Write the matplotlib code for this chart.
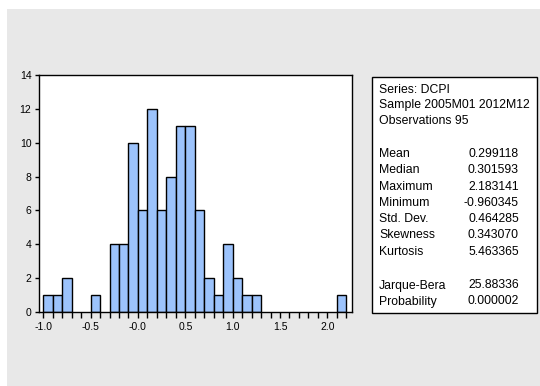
import matplotlib
matplotlib.use("Agg")
import matplotlib.pyplot as plt
from matplotlib.patches import Rectangle
import numpy as np

plt.rcParams['font.family'] = ['Liberation Sans', 'DejaVu Sans']

# ---- data ----
bin_starts = [-1.0, -0.9, -0.8, -0.7, -0.6, -0.5, -0.4, -0.3, -0.2, -0.1,
              0.0, 0.1, 0.2, 0.3, 0.4, 0.5, 0.6, 0.7, 0.8, 0.9,
              1.0, 1.1, 1.2, 1.3, 1.4, 1.5, 1.6, 1.7, 1.8, 1.9, 2.0, 2.1]
counts = [1, 1, 2, 0, 0, 1, 0, 4, 4, 10,
          6, 12, 6, 8, 11, 11, 6, 2, 1, 4,
          2, 1, 1, 0, 0, 0, 0, 0, 0, 0, 0, 1]
bin_width = 0.1
xtick_values = [-1.0, -0.5, 0.0, 0.5, 1.0, 1.5, 2.0]
xtick_labels = ["-1.0", "-0.5", "-0.0", "0.5", "1.0", "1.5", "2.0"]
yticks = [0, 2, 4, 6, 8, 10, 12, 14]

header_lines = ["Series: DCPI", "Sample 2005M01 2012M12", "Observations 95"]
stat_names = ["Mean", "Median", "Maximum", "Minimum", "Std. Dev.", "Skewness", "Kurtosis"]
stat_values = ["0.299118", "0.301593", "2.183141", "-0.960345", "0.464285", "0.343070", "5.463365"]
test_names = ["Jarque-Bera", "Probability"]
test_values = ["25.88336", "0.000002"]

W, H = 540, 386
fig = plt.figure(figsize=(W / 100, H / 100), dpi=100)
fig.patch.set_facecolor('white')

# gray panel background
fig.patches.append(Rectangle((7 / W, 0), 1 - 7 / W, 1 - 9 / H, transform=fig.transFigure,
                             facecolor='#e8e8e8', edgecolor='none', zorder=-10))

ax_l, ax_r, ax_t, ax_b = 39, 352, 75, 312
ax = fig.add_axes([ax_l / W, 1 - ax_b / H, (ax_r - ax_l) / W, (ax_b - ax_t) / H])
ax.set_zorder(5)
ax.set_facecolor('white')

xs = [b for b, c in zip(bin_starts, counts) if c > 0]
hs = [c for c in counts if c > 0]
ax.bar(xs, hs, width=bin_width, align='edge', color='#9cc3fc', edgecolor='black', linewidth=1.0, zorder=2)

ax.set_xlim(-1.045, 2.26)
ax.set_ylim(0, 14)
ax.set_yticks(yticks)
ax.set_yticklabels([str(v) for v in yticks])
ax.set_xticks(xtick_values)
ax.set_xticklabels(xtick_labels)
ax.set_xticks(np.round(np.arange(-1.0, 2.21, 0.1), 2), minor=True)
ax.tick_params(axis='x', which='both', direction='out', length=4.5, width=1, pad=2.5,
               labelsize=7.5, colors='black')
ax.tick_params(axis='y', which='both', direction='out', length=3, width=1, pad=2.5,
               labelsize=7.5, colors='black')
for s in ax.spines.values():
    s.set_linewidth(1)
    s.set_color('black')

# stats box
bx_l, bx_r, bx_t, bx_b = 372, 537, 77, 313
fig.patches.append(Rectangle((bx_l / W, 1 - bx_b / H), (bx_r - bx_l) / W, (bx_b - bx_t) / H,
                             transform=fig.transFigure, facecolor='white', edgecolor='black',
                             linewidth=1, zorder=1))

fs = 8.8
lx, vx = 379, 519
header_y = [90, 105, 120.5]
for t, y in zip(header_lines, header_y):
    fig.text(lx / W, 1 - y / H, t, fontsize=fs, ha='left', va='center')
stat_y = [154, 170.3, 186.6, 202.9, 219.2, 235.5, 251.8]
for n, v, y in zip(stat_names, stat_values, stat_y):
    fig.text(lx / W, 1 - y / H, n, fontsize=fs, ha='left', va='center')
    fig.text(vx / W, 1 - y / H, v, fontsize=fs, ha='right', va='center')
test_y = [285.5, 301.5]
for n, v, y in zip(test_names, test_values, test_y):
    fig.text(lx / W, 1 - y / H, n, fontsize=fs, ha='left', va='center')
    fig.text(vx / W, 1 - y / H, v, fontsize=fs, ha='right', va='center')

fig.savefig('out.png', dpi=100)
